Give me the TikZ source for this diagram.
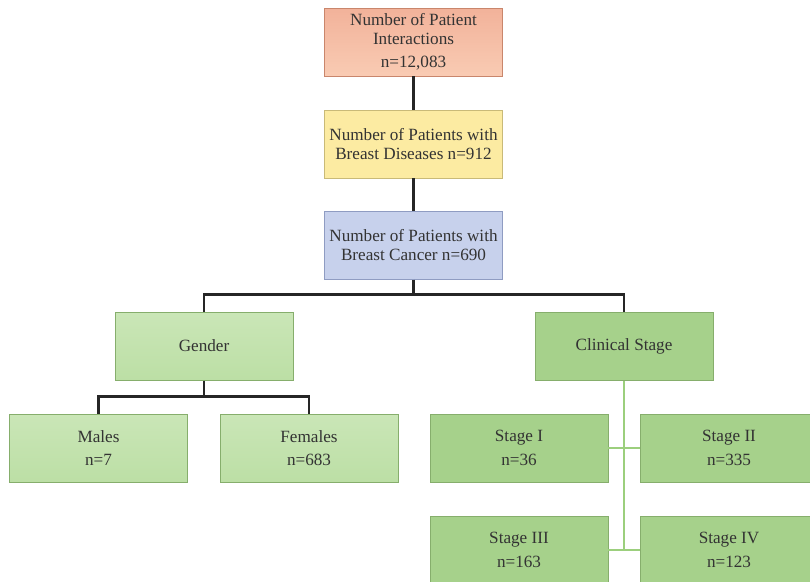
\documentclass[tikz,border=0pt]{standalone}
\usepackage{fontspec}
\setmainfont{Liberation Serif}
\usetikzlibrary{positioning,calc}

\definecolor{txtgray}{HTML}{333333}
\definecolor{peachtop}{HTML}{F2B29A}
\definecolor{peachbot}{HTML}{F9CBB3}
\definecolor{peachline}{HTML}{C9866C}
\definecolor{yellowfill}{HTML}{FCEBA2}
\definecolor{yellowline}{HTML}{C9BA78}
\definecolor{bluefill}{HTML}{C7D1EC}
\definecolor{blueline}{HTML}{8F9CC2}
\definecolor{palegreen}{HTML}{CAE6B7}
\definecolor{palegreenb}{HTML}{BCDFA5}
\definecolor{deepgreen}{HTML}{A6D18B}
\definecolor{greenline}{HTML}{86AE6C}
\definecolor{linkgreen}{HTML}{9CCF7D}

\begin{document}
\begin{tikzpicture}[x=0.025cm, y=-0.025cm,
    box/.style={draw, line width=0.7pt, minimum width=178*0.025cm, minimum height=68*0.025cm,
                inner sep=0pt, align=center, text=txtgray,
                font=\fontsize{12.2}{13.6}\selectfont},
    peachbox/.style={box, draw=peachline, top color=peachtop, bottom color=peachbot},
    yellowbox/.style={box, draw=yellowline, fill=yellowfill},
    bluebox/.style={box, draw=blueline, fill=bluefill},
    lightbox/.style={box, draw=greenline, top color=palegreen, bottom color=palegreenb},
    stagebox/.style={box, draw=greenline, fill=deepgreen},
    link/.style={line width=1.9pt, black!85},
    greenlink/.style={line width=1.9pt, linkgreen}]
    \useasboundingbox (0,0) rectangle (810,581);
    \clip (0,0) rectangle (810,581);

    % Top of the chart
    \node[peachbox] (inter) at (413.5,42) {Number of Patient\\Interactions\\[3pt]n=12,083};
    \node[yellowbox] (disease) at (413.5,144) {Number of Patients with\\Breast Diseases n=912};
    \node[bluebox] (cancer) at (413.5,245) {Number of Patients with\\Breast Cancer n=690};
    \draw[link] (inter) -- (disease);
    \draw[link] (disease) -- (cancer);

    % Split
    \node[lightbox] (gender) at (204,346) {Gender};
    \node[stagebox] (clinic) at (624,346.5) {Clinical Stage};
    \draw[link] (cancer.south) -- ++(0,16);
    \draw[link] (gender.north) -- ++(0,-17) -| (clinic.north);

    % Gender
    \node[lightbox] (males) at (98.5,448) {Males\\[3pt]n=7};
    \node[lightbox] (females) at (309,448) {Females\\[3pt]n=683};
    \draw[link] (gender.south) -- ++(0,17);
    \draw[link] (males.north) -- ++(0,-17) -| (females.north);

    % Clinical stage
    \node[stagebox] (stage1) at (519,448) {Stage I\\[3pt]n=36};
    \node[stagebox] (stage2) at (729,448) {Stage II\\[3pt]n=335};
    \node[stagebox] (stage3) at (519,550) {Stage III\\[3pt]n=163};
    \node[stagebox] (stage4) at (729,550) {Stage IV\\[3pt]n=123};
    \draw[greenlink] (clinic.south) -- (clinic.south |- stage3.east);
    \draw[greenlink] (stage1.east) -- (stage2.west);
    \draw[greenlink] (stage3.east) -- (stage4.west);
\end{tikzpicture}
\end{document}
